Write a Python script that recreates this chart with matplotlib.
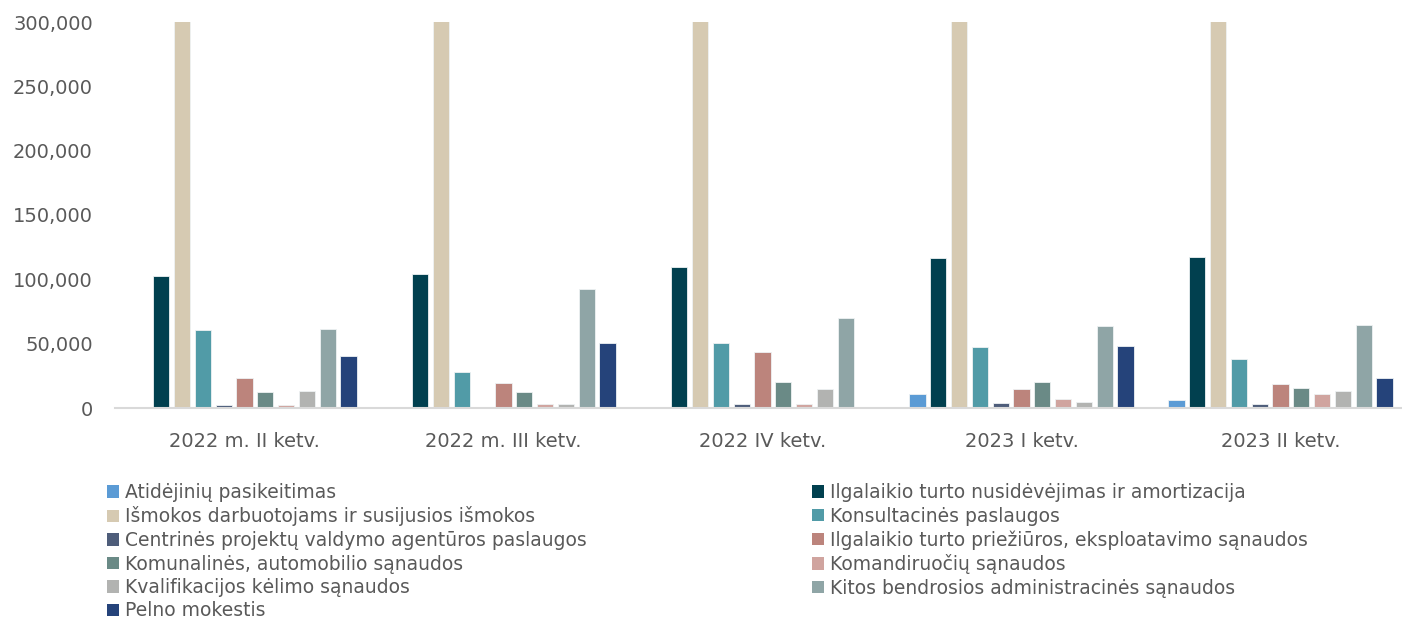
import numpy as np
import matplotlib.pyplot as plt
from matplotlib.patches import Patch

periods = ['2022 m. II ketv.', '2022 m. III ketv.', '2022 IV ketv.', '2023 I ketv.', '2023 II ketv.']

series_names = [
    'Atidėjinių pasikeitimas',
    'Ilgalaikio turto nusidėvėjimas ir amortizacija',
    'Išmokos darbuotojams ir susijusios išmokos',
    'Konsultacinės paslaugos',
    'Centrinės projektų valdymo agentūros paslaugos',
    'Ilgalaikio turto priežiūros, eksploatavimo sąnaudos',
    'Komunalinės, automobilio sąnaudos',
    'Komandiruočių sąnaudos',
    'Kvalifikacijos kėlimo sąnaudos',
    'Kitos bendrosios administracinės sąnaudos',
    'Pelno mokestis',
]

atidejiniai = [0, 0, 0, 11100, 6500]
nusidevejimas = [102700, 104300, 109200, 116300, 117000]
ismokos = [420000, 430000, 440000, 450000, 455000]  # clipped above 300,000 in the chart
konsultacines = [60900, 27700, 50800, 47500, 37800]
cpva = [2300, 1000, 2800, 4100, 3100]
prieziura = [23300, 19500, 43300, 14500, 18900]
komunalines = [12100, 12100, 20200, 19900, 15600]
komandiruotes = [2600, 3300, 3300, 7000, 11100]
kvalifikacija = [13200, 3100, 14500, 4400, 12900]
kitos = [61500, 92600, 70300, 63800, 64600]
pelno = [40500, 50600, 0, 48200, 23600]

values = [atidejiniai, nusidevejimas, ismokos, konsultacines, cpva, prieziura,
          komunalines, komandiruotes, kvalifikacija, kitos, pelno]

colors = ['#5B9BD5', '#01404F', '#D6CAB2', '#519BA7', '#4E5D7A', '#BC847C',
          '#6A8A86', '#D0A49F', '#B2B3B1', '#8FA5A6', '#25437A']

text_color = '#595959'

fig = plt.figure(figsize=(14.02, 6.18), dpi=100)
ax = fig.add_axes([115 / 1402, 1 - 408 / 618, 1295 / 1402, 386 / 618])

x = np.arange(len(periods))
pitch = 0.0803
width = 0.0625
for i, (vals, c) in enumerate(zip(values, colors)):
    ax.bar(x + (i - 5) * pitch, vals, width=width, color=c,
           edgecolor='#EEF2F3', linewidth=0.6, zorder=2)

ax.set_xlim(-0.5, len(periods) - 0.5)
ax.set_ylim(0, 300000)
ax.set_yticks(np.arange(0, 300001, 50000))
ax.set_yticklabels(['0' if v == 0 else f'{v:,}' for v in range(0, 300001, 50000)])
ax.set_xticks(x)
ax.set_xticklabels(periods)

for s in ['top', 'right', 'left']:
    ax.spines[s].set_visible(False)
ax.spines['bottom'].set_color('#D9D9D9')
ax.spines['bottom'].set_linewidth(1.5)
ax.spines['bottom'].set_zorder(3)

ax.tick_params(axis='y', length=0, pad=16, labelsize=14, labelcolor=text_color)
ax.tick_params(axis='x', length=0, pad=17, labelsize=14, labelcolor=text_color)

handles = [Patch(facecolor=c, edgecolor='none') for c in colors]
left_idx = [0, 2, 4, 6, 8, 10]
right_idx = [1, 3, 5, 7, 9]
leg_kw = dict(loc='upper left', frameon=False, fontsize=13.5, handlelength=0.65,
              handleheight=0.65, handletextpad=0.3, labelspacing=0.24,
              borderaxespad=0, borderpad=0, labelcolor=text_color)
leg1 = fig.legend([handles[i] for i in left_idx], [series_names[i] for i in left_idx],
                  bbox_to_anchor=(107 / 1402, 1 - 483 / 618), **leg_kw)
leg2 = fig.legend([handles[i] for i in right_idx], [series_names[i] for i in right_idx],
                  bbox_to_anchor=(812 / 1402, 1 - 483 / 618), **leg_kw)

fig.savefig('out.png', dpi=100)
